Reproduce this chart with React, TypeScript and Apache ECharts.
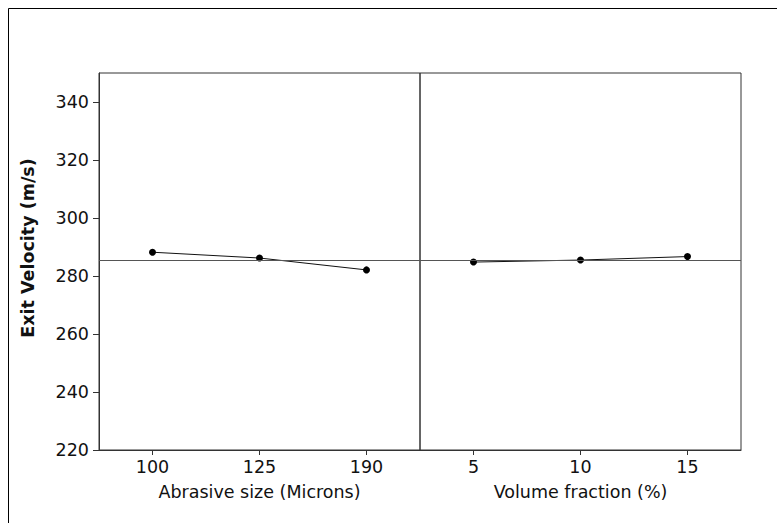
import React, { useEffect, useRef } from "react";
import * as echarts from "echarts";

const abrasiveSizes = ["100", "125", "190"];
const abrasiveMeans = [288.2, 286.2, 282.1];
const volumeFractions = ["5", "10", "15"];
const volumeMeans = [284.8, 285.5, 286.7];
const overallMean = 285.6;
const yTickValues = [220, 240, 260, 280, 300, 320, 340];
const yRange = { min: 220, max: 350, interval: 10 };

const FONT = "DejaVu Sans";
const FS = 17.5;

export default function App() {
  const ref = useRef<HTMLDivElement>(null);
  useEffect(() => {
    if (!ref.current) return;
    const chart = echarts.init(ref.current, null, { renderer: "svg" });
    const meanLine = {
      silent: true,
      symbol: ["none", "none"],
      label: { show: false },
      lineStyle: { color: "#555", width: 1, type: "solid" },
      data: [{ yAxis: overallMean }],
    };
    const xAxisBase = {
      type: "category",
      boundaryGap: true,
      axisLine: { show: true, lineStyle: { color: "#333", width: 1 } },
      axisTick: { show: true, alignWithLabel: true, length: 5, lineStyle: { color: "#333" } },
      axisLabel: { fontSize: FS, color: "#111", fontFamily: FONT, margin: 8 },
      nameLocation: "middle",
      nameGap: 33,
      nameTextStyle: { fontSize: FS, color: "#111", fontFamily: FONT },
    };
    chart.setOption({
      animation: false,
      backgroundColor: "#fff",
      graphic: [
        {
          type: "rect",
          shape: { x: 8.5, y: 8.5, width: 1000, height: 1000 },
          style: { fill: "none", stroke: "#000", lineWidth: 1 },
          silent: true,
        },
        {
          type: "text",
          x: 28,
          y: 248,
          rotation: Math.PI / 2,
          style: {
            text: "Exit Velocity (m/s)",
            fontSize: FS,
            fontWeight: "bold",
            fontFamily: FONT,
            fill: "#111",
            textAlign: "center",
            textVerticalAlign: "middle",
          },
        },
      ],
      grid: [
        { left: 99, top: 73, width: 321, height: 377, show: true, borderColor: "#333", borderWidth: 1, backgroundColor: "transparent" },
        { left: 420, top: 73, width: 321, height: 377, show: true, borderColor: "#333", borderWidth: 1, backgroundColor: "transparent" },
      ],
      xAxis: [
        { ...xAxisBase, gridIndex: 0, data: abrasiveSizes, name: "Abrasive size (Microns)" },
        { ...xAxisBase, gridIndex: 1, data: volumeFractions, name: "Volume fraction (%)" },
      ],
      yAxis: [
        {
          type: "value",
          gridIndex: 0,
          min: yRange.min,
          max: yRange.max,
          interval: yRange.interval,
          axisLine: { show: true, lineStyle: { color: "#333" } },
          axisTick: { show: true, length: 6, lineStyle: { color: "#333" }, customValues: yTickValues },
          axisLabel: {
            fontSize: FS,
            color: "#111",
            fontFamily: FONT,
            margin: 10,
            customValues: yTickValues,
          },
          splitLine: { show: false },
        },
        {
          type: "value",
          gridIndex: 1,
          min: yRange.min,
          max: yRange.max,
          interval: yRange.interval,
          axisLine: { show: false },
          axisTick: { show: false },
          axisLabel: { show: false },
          splitLine: { show: false },
        },
      ],
      series: [
        {
          type: "line",
          xAxisIndex: 0,
          yAxisIndex: 0,
          data: abrasiveMeans,
          symbol: "circle",
          symbolSize: 7,
          itemStyle: { color: "#000" },
          lineStyle: { color: "#111", width: 1 },
          markLine: meanLine,
        },
        {
          type: "line",
          xAxisIndex: 1,
          yAxisIndex: 1,
          data: volumeMeans,
          symbol: "circle",
          symbolSize: 7,
          itemStyle: { color: "#000" },
          lineStyle: { color: "#111", width: 1 },
          markLine: meanLine,
        },
      ],
    });
    return () => chart.dispose();
  }, []);
  return (
    <div
      ref={ref}
      style={{ position: "absolute", left: 0, top: 0, width: 777, height: 523 }}
    />
  );
}
